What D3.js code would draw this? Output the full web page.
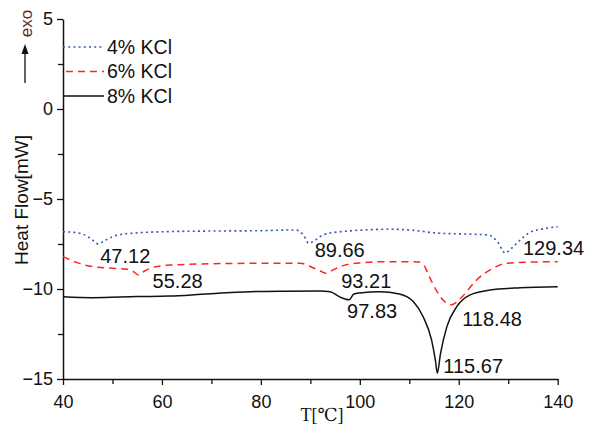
<!DOCTYPE html>
<html>
<head>
<meta charset="utf-8">
<script src="https://cdn.jsdelivr.net/npm/d3@7"></script>
<style>
  html, body { margin: 0; padding: 0; background: #fff; }
  svg { display: block; }
  text { font-family: "Liberation Sans", Arial, sans-serif; fill: #111; }
  text.serif { font-family: "Liberation Serif", "DejaVu Serif", "Times New Roman", serif; }
</style>
</head>
<body>
<svg id="chart" width="590" height="428"></svg>
<script>
// DSC heat-flow curves, temperature in °C, heat flow in mW
const temps4 = [40, 42, 44, 46, 47.12, 48.5, 51, 55, 60, 70, 80, 87, 88.6, 89.66, 91, 92.5, 96, 106, 110, 116, 122, 126, 127.9, 129.34, 130.6, 132.4, 134.4, 137, 140];
const flow4  = [-6.82, -6.85, -6.95, -7.28, -7.5, -7.3, -7.0, -6.88, -6.82, -6.78, -6.76, -6.72, -7.0, -7.46, -7.28, -7.0, -6.82, -6.68, -6.72, -6.9, -6.95, -7.0, -7.4, -8.0, -7.75, -7.28, -6.85, -6.66, -6.54];

const temps6 = [40, 43, 46, 50, 53, 54.3, 55.28, 56.5, 58, 61.6, 70, 80, 88, 90, 92, 93.21, 94.5, 96.6, 100, 106, 112, 113, 114.2, 116.2, 118.48, 119.6, 120.8, 123.6, 126.9, 129.7, 135, 140];
const flow6  = [-8.2, -8.55, -8.76, -8.85, -8.9, -9.05, -9.22, -9.0, -8.82, -8.67, -8.6, -8.57, -8.57, -8.75, -9.0, -9.13, -8.95, -8.7, -8.55, -8.48, -8.5, -8.7, -9.4, -10.4, -10.88, -10.72, -10.4, -9.5, -8.85, -8.57, -8.5, -8.48];

const temps8 = [40, 46, 55, 61.5, 66, 72, 78, 85, 92, 94, 96, 97.83, 98.8, 100, 104, 108, 110.8, 112.8, 114.5, 115.3, 115.67, 116.3, 117.6, 119.6, 122.3, 126.3, 132.4, 140];
const flow8  = [-10.43, -10.48, -10.42, -10.39, -10.33, -10.22, -10.15, -10.12, -10.11, -10.15, -10.45, -10.6, -10.28, -10.22, -10.15, -10.28, -10.7, -11.54, -12.83, -14.0, -14.68, -13.6, -12.09, -10.98, -10.33, -10.06, -9.93, -9.87];

const seriesNames = ["4% KCl", "6% KCl", "8% KCl"];
const peakTemps4 = [47.12, 89.66, 129.34];
const peakTemps6 = [55.28, 93.21, 118.48];
const peakTemps8 = [97.83, 115.67];

const xTicks = [40, 60, 80, 100, 120, 140];
const xMinorTicks = [50, 70, 90, 110, 130];
const yTicks = [-15, -10, -5, 0, 5];
const yMinorTicks = [-12.5, -7.5, -2.5, 2.5];

const xTitle = "T[℃]";
const yTitle = "Heat Flow[mW]";
const exoLabel = "exo";

// ---- layout ----
const svg = d3.select("#chart");
const x = d3.scaleLinear().domain([40, 140]).range([63, 557.7]);
const y = d3.scaleLinear().domain([-15, 5]).range([379, 19]);

const styles = [
  { color: "#3656bd", dash: "2,3.2", width: 1.6 },
  { color: "#ff2424", dash: "7,5", width: 1.5 },
  { color: "#111111", dash: null, width: 1.5 }
];

// label offsets relative to each peak minimum (px)
const labelOffsets = [
  [[2, 19], [6, 14], [18, 2]],
  [[14, 13], [15, 15], [11, 21]],
  [[-2, 18], [6, 0]]
];

const series = [
  { name: seriesNames[0], pts: temps4.map((t, i) => [t, flow4[i]]), peaks: peakTemps4 },
  { name: seriesNames[1], pts: temps6.map((t, i) => [t, flow6[i]]), peaks: peakTemps6 },
  { name: seriesNames[2], pts: temps8.map((t, i) => [t, flow8[i]]), peaks: peakTemps8 }
];

// ---- axes ----
const axisColor = "#111";
const gx = svg.append("g").attr("transform", `translate(0,${y(-15)})`);
gx.call(d3.axisBottom(x).tickValues(xTicks).tickSize(6).tickSizeOuter(0).tickPadding(10).tickFormat(d3.format("d")));
gx.append("g").call(d3.axisBottom(x).tickValues(xMinorTicks).tickSize(5).tickSizeOuter(0).tickFormat(""))
  .select(".domain").remove();

const gy = svg.append("g").attr("transform", `translate(${x(40)},0)`);
gy.call(d3.axisLeft(y).tickValues(yTicks).tickSize(6).tickSizeOuter(0).tickPadding(4).tickFormat(d3.format("d")));
gy.append("g").call(d3.axisLeft(y).tickValues(yMinorTicks).tickSize(5).tickSizeOuter(0).tickFormat(""))
  .select(".domain").remove();

svg.selectAll(".domain").attr("stroke", axisColor).attr("stroke-width", 1.5);
svg.selectAll(".tick line").attr("stroke", axisColor).attr("stroke-width", 1.3);
svg.selectAll(".tick text")
  .attr("font-family", "'Liberation Sans', Arial, sans-serif")
  .attr("font-size", 18).attr("fill", "#111");

// axis titles
svg.append("text")
  .attr("class", "serif")
  .attr("x", 322).attr("y", 421)
  .attr("text-anchor", "middle")
  .attr("font-size", 18)
  .text(xTitle);

svg.append("text")
  .attr("transform", "translate(28,200) rotate(-90)")
  .attr("text-anchor", "middle")
  .attr("font-size", 19)
  .text(yTitle);

// exothermic direction marker
svg.append("text")
  .attr("transform", "translate(32,23.5) rotate(-90)")
  .attr("text-anchor", "middle")
  .attr("font-size", 17)
  .style("fill", "#5a2a2a")
  .text(exoLabel);
svg.append("line")
  .attr("x1", 25).attr("x2", 25).attr("y1", 83).attr("y2", 52)
  .attr("stroke", "#111").attr("stroke-width", 1.3);
svg.append("path")
  .attr("d", "M25,44 L21.5,54 L28.5,54 Z")
  .attr("fill", "#111");

// ---- curves ----
const line = d3.line()
  .x(d => x(d[0]))
  .y(d => y(d[1]))
  .curve(d3.curveMonotoneX);

series.forEach((s, i) => {
  const st = styles[i];
  svg.append("path")
    .datum(s.pts)
    .attr("fill", "none")
    .attr("stroke", st.color)
    .attr("stroke-width", st.width)
    .attr("stroke-dasharray", st.dash)
    .attr("stroke-linejoin", "round")
    .attr("d", line);

  // peak temperature labels
  s.peaks.forEach((t, j) => {
    const p = s.pts.find(d => d[0] === t);
    const [dx, dy] = labelOffsets[i][j];
    svg.append("text")
      .attr("x", x(t) + dx)
      .attr("y", y(p[1]) + dy)
      .attr("font-size", 20)
      .text(d3.format(".2f")(t));
  });
});

// ---- legend ----
const legendRows = [47, 71.5, 96];
series.forEach((s, i) => {
  const st = styles[i];
  svg.append("line")
    .attr("x1", i === 1 ? 66 : 63).attr("x2", 104)
    .attr("y1", legendRows[i]).attr("y2", legendRows[i])
    .attr("stroke", st.color)
    .attr("stroke-width", st.width)
    .attr("stroke-dasharray", st.dash);
  svg.append("text")
    .attr("x", 107).attr("y", legendRows[i])
    .attr("dy", "0.35em")
    .attr("font-size", 19.5)
    .text(s.name);
});
</script>
</body>
</html>
